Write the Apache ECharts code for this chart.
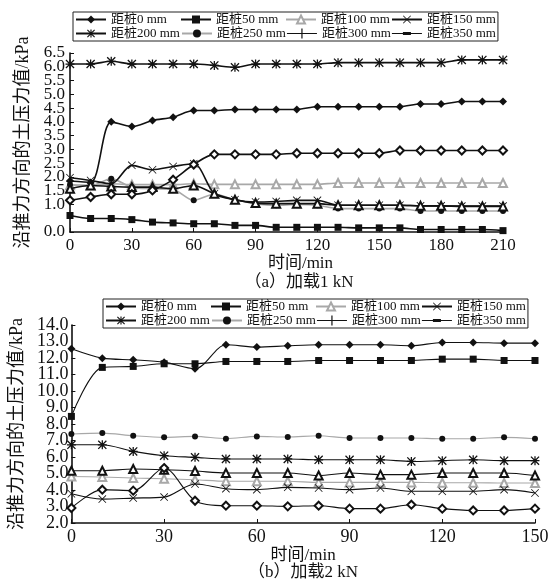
<!DOCTYPE html>
<html>
<head>
<meta charset="utf-8">
<script src="https://cdn.jsdelivr.net/npm/echarts@6/dist/echarts.min.js"></script>
<style>
html, body { margin: 0; padding: 0; background: #fff; }
#main { width: 555px; height: 581px; }
</style>
</head>
<body>
<div id="main"></div>
<script>
// 图例名称
var names = ['距桩0 mm', '距桩50 mm', '距桩100 mm', '距桩150 mm',
    '距桩200 mm', '距桩250 mm', '距桩300 mm', '距桩350 mm'];

// (a) 加载1 kN
var tA = [0, 10, 20, 30, 40, 50, 60, 70, 80, 90, 100, 110, 120, 130, 140, 150, 160, 170, 180, 190, 200, 210];
var a0 = [1.85, 1.8, 4.0, 3.83, 4.05, 4.17, 4.41, 4.41, 4.45, 4.45, 4.45, 4.45, 4.55, 4.55, 4.55, 4.55, 4.55, 4.65, 4.65, 4.74, 4.74, 4.74];
var a50 = [0.6, 0.49, 0.49, 0.45, 0.36, 0.33, 0.3, 0.3, 0.24, 0.24, 0.17, 0.17, 0.17, 0.17, 0.15, 0.15, 0.15, 0.09, 0.09, 0.09, 0.09, 0.05];
var a100 = [1.7, 1.7, 1.75, 1.72, 1.72, 1.72, 1.75, 1.73, 1.73, 1.73, 1.73, 1.73, 1.73, 1.78, 1.78, 1.78, 1.78, 1.78, 1.78, 1.78, 1.78, 1.78];
var a150 = [1.97, 1.87, 1.75, 2.42, 2.26, 2.38, 2.48, 1.39, 1.17, 1.09, 1.11, 1.15, 1.15, 0.97, 0.97, 0.97, 0.97, 0.95, 0.95, 0.94, 0.94, 0.94];
var a200 = [6.1, 6.1, 6.2, 6.1, 6.1, 6.1, 6.1, 6.05, 5.98, 6.1, 6.1, 6.1, 6.1, 6.15, 6.15, 6.15, 6.15, 6.15, 6.15, 6.25, 6.25, 6.25];
var a250 = [1.72, 1.68, 1.93, 1.63, 1.57, 1.54, 1.15, 1.37, 1.17, 1.03, 0.97, 1.0, 0.97, 0.85, 0.85, 0.85, 0.85, 0.76, 0.76, 0.76, 0.76, 0.76];
var a300 = [1.57, 1.69, 1.65, 1.63, 1.63, 1.57, 1.69, 1.39, 1.17, 1.05, 1.03, 1.03, 1.03, 0.97, 0.97, 0.97, 0.97, 0.95, 0.95, 0.93, 0.93, 0.93];
var a350 = [1.15, 1.27, 1.37, 1.37, 1.51, 1.9, 2.45, 2.82, 2.82, 2.82, 2.82, 2.86, 2.86, 2.86, 2.86, 2.86, 2.96, 2.96, 2.96, 2.96, 2.96, 2.96];

// (b) 加载2 kN
var tB = [0, 10, 20, 30, 40, 50, 60, 70, 80, 90, 100, 110, 120, 130, 140, 150];
var b0 = [12.56, 11.99, 11.89, 11.75, 11.35, 12.8, 12.66, 12.74, 12.8, 12.8, 12.8, 12.74, 12.94, 12.94, 12.9, 12.9];
var b50 = [8.46, 11.43, 11.49, 11.65, 11.65, 11.79, 11.79, 11.79, 11.85, 11.85, 11.85, 11.85, 11.93, 11.93, 11.85, 11.85];
var b100 = [4.82, 4.79, 4.73, 4.68, 4.62, 4.53, 4.53, 4.53, 4.46, 4.46, 4.46, 4.46, 4.44, 4.44, 4.42, 4.42];
var b150 = [3.77, 3.45, 3.51, 3.57, 4.36, 4.08, 4.02, 4.16, 4.12, 4.02, 4.12, 3.92, 3.92, 3.92, 4.02, 3.82];
var b200 = [6.74, 6.74, 6.34, 6.08, 5.98, 5.88, 5.88, 5.88, 5.83, 5.83, 5.83, 5.73, 5.78, 5.83, 5.78, 5.78];
var b250 = [7.39, 7.45, 7.29, 7.19, 7.25, 7.11, 7.25, 7.21, 7.29, 7.15, 7.15, 7.15, 7.11, 7.11, 7.19, 7.11];
var b300 = [5.17, 5.17, 5.27, 5.23, 5.15, 5.03, 5.03, 5.03, 4.88, 5.03, 4.93, 4.93, 5.03, 5.03, 5.03, 4.88];
var b350 = [2.91, 4.02, 3.96, 5.33, 3.35, 3.05, 3.05, 3.01, 3.05, 2.87, 2.87, 3.11, 2.87, 2.76, 2.76, 2.87];

var FONT = "'Liberation Serif', 'Noto Sans CJK SC', serif";
var BLACK = '#111';
var GREY = '#a8a8a8';

// 星形和叉形符号
var STAR = 'path://M0,4.3H10V5.7H0Z M4.3,0H5.7V10H4.3Z M0,1L1,0L10,9L9,10Z M9,0L10,1L1,10L0,9Z';
var CROSS = 'path://M0,0.7L0.7,0L10,9.3L9.3,10Z M9.3,0L10,0.7L0.7,10L0,9.3Z';

// 每条线的样式 (顺序与 names 对应)
var styles = [
    { symbol: 'diamond', size: 8, color: BLACK, line: BLACK },
    { symbol: 'rect', size: 7, color: BLACK, line: BLACK },
    { symbol: 'emptyTriangle', size: 8, color: GREY, line: GREY },
    { symbol: CROSS, size: 8, color: BLACK, line: BLACK },
    { symbol: STAR, size: 9, color: BLACK, line: BLACK },
    { symbol: 'circle', size: 6, color: BLACK, line: GREY },
    { symbol: 'emptyTriangle', size: 8, color: BLACK, line: BLACK },
    { symbol: 'emptyDiamond', size: 8, color: BLACK, line: BLACK }
];

function pairs(t, v) {
    return t.map(function (x, i) { return [x, v[i]]; });
}

function makeSeries(t, list, idx, lw) {
    return list.map(function (v, i) {
        var s = styles[i];
        return {
            name: names[i],
            type: 'line',
            xAxisIndex: idx,
            yAxisIndex: idx,
            smooth: 0.3,
            symbol: s.symbol,
            symbolSize: s.size,
            showAllSymbol: true,
            itemStyle: { color: s.color, borderWidth: 1.2 },
            lineStyle: { color: s.line, width: lw },
            data: pairs(t, v),
            z: i == 2 || i == 5 ? 2 : 3
        };
    });
}

// 图例: 300/350 用参考图中的 + 和 - 图标
var legendData = names.map(function (n, i) {
    if (i == 6) return { name: n, icon: 'path://M0,4.4H30V5.6H0Z M14.4,0H15.6V10H14.4Z' };
    if (i == 7) return { name: n, icon: 'path://M0,4.4H30V5.6H0Z M11,3.6H19V6.4H11Z' };
    return { name: n };
});

function makeLegend(left, top) {
    return {
        data: legendData,
        left: left,
        top: top,
        width: 445,
        orient: 'horizontal',
        itemWidth: 30,
        itemHeight: 10,
        itemGap: 1,
        padding: [1, 2, 1, 2],
        borderColor: '#222',
        borderWidth: 1,
        selectedMode: false,
        formatter: '{a|{name}}',
        textStyle: {
            rich: {
                a: { width: 68, fontSize: 13, lineHeight: 14, fontFamily: FONT, color: '#111' }
            }
        }
    };
}

function axisCommon() {
    return {
        axisLine: { show: true, lineStyle: { color: BLACK, width: 1.6 } },
        axisTick: { show: true, inside: true, length: 4, lineStyle: { color: BLACK } },
        splitLine: { show: false }
    };
}

function yLabel(size, margin) {
    return {
        margin: margin, color: BLACK, fontSize: size, fontFamily: FONT,
        showMinLabel: true, showMaxLabel: true, hideOverlap: false,
        formatter: function (v) { return v.toFixed(1); }
    };
}

// 标签很密, 首尾旁边的标签会被自动隐藏, 用一条同刻度的辅助轴把它们补上
function extraY(grid, min, max, step, only, size, margin) {
    return {
        type: 'value', gridIndex: grid, position: 'left', offset: 0,
        min: min, max: max, interval: step,
        axisLine: { show: false }, axisTick: { show: false }, splitLine: { show: false },
        axisLabel: {
            margin: margin, color: BLACK, fontSize: size, fontFamily: FONT,
            showMinLabel: false, showMaxLabel: false, hideOverlap: false,
            formatter: function (v) {
                return only.indexOf(+v.toFixed(1)) >= 0 ? v.toFixed(1) : '';
            }
        }
    };
}

var xa = axisCommon(), xb = axisCommon(), ya = axisCommon(), yb = axisCommon();

Object.assign(xa, {
    type: 'value', gridIndex: 0, min: 0, max: 210, interval: 30,
    name: '时间/min', nameLocation: 'middle', nameGap: 23,
    nameTextStyle: { fontSize: 17, fontFamily: FONT, color: BLACK, padding: [0, 0, 0, 28] },
    axisLabel: { fontSize: 17, fontFamily: FONT, color: BLACK, margin: 5, showMinLabel: true, showMaxLabel: true }
});
Object.assign(ya, {
    type: 'value', gridIndex: 0, min: 0, max: 6.5, interval: 0.5,
    name: '沿推力方向的土压力值/kPa', nameLocation: 'middle', nameGap: 38,
    nameTextStyle: { fontSize: 18, fontFamily: FONT, color: BLACK },
    axisLabel: yLabel(17, 5)
});
Object.assign(xb, {
    type: 'value', gridIndex: 1, min: 0, max: 150, interval: 30,
    name: '时间/min', nameLocation: 'middle', nameGap: 20,
    nameTextStyle: { fontSize: 17, fontFamily: FONT, color: BLACK },
    axisLabel: { fontSize: 18, fontFamily: FONT, color: BLACK, margin: 5, showMinLabel: true, showMaxLabel: true }
});
Object.assign(yb, {
    type: 'value', gridIndex: 1, min: 2, max: 14, interval: 1,
    name: '沿推力方向的土压力值/kPa', nameLocation: 'middle', nameGap: 36,
    nameTextStyle: { fontSize: 18, fontFamily: FONT, color: BLACK },
    axisLabel: yLabel(18, 3)
});

var chart = echarts.init(document.getElementById('main'));

var option = {
    backgroundColor: '#fff',
    animation: false,
    legend: [makeLegend(73, 12), makeLegend(103, 299)],
    grid: [
        { left: 70, top: 53, width: 433, height: 179, containLabel: false },
        { left: 69, top: 325, width: 466, height: 198, containLabel: false }
    ],
    xAxis: [xa, xb],
    yAxis: [ya, yb,
        extraY(0, 0, 6.5, 0.5, [6.0], 17, 5),
        extraY(1, 2, 14, 1, [3.0, 13.0], 18, 3)],
    graphic: [
        {
            type: 'text', x: 299, y: 283,
            style: { text: '（a）加载1 kN', align: 'center', verticalAlign: 'middle', fontSize: 17, fontFamily: FONT, fill: BLACK }
        },
        {
            type: 'text', x: 303, y: 573,
            style: { text: '（b）加载2 kN', align: 'center', verticalAlign: 'middle', fontSize: 17, fontFamily: FONT, fill: BLACK }
        }
    ],
    series: makeSeries(tA, [a0, a50, a100, a150, a200, a250, a300, a350], 0, 1.6)
        .concat(makeSeries(tB, [b0, b50, b100, b150, b200, b250, b300, b350], 1, 1.1))
};

chart.setOption(option);
</script>
</body>
</html>
